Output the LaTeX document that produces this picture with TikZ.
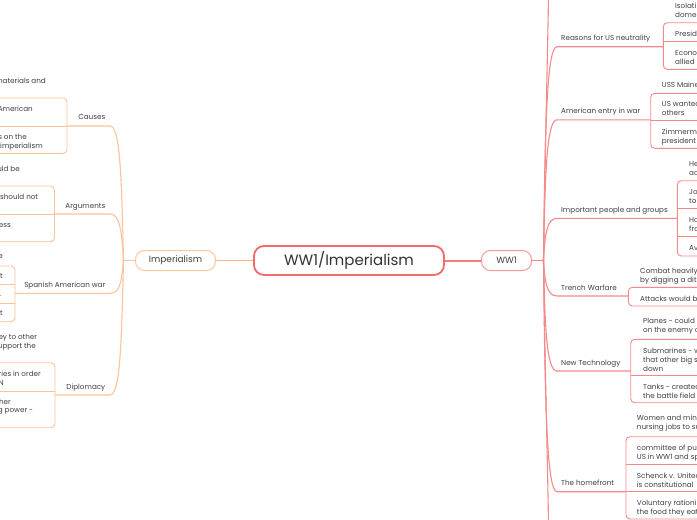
\documentclass[tikz,border=0pt]{standalone}
\usepackage{fontspec}
\setmainfont{Poppins}
\definecolor{txt}{HTML}{404040}
\definecolor{txtd}{HTML}{333333}
\definecolor{redmain}{HTML}{F26B6B}
\definecolor{rmain}{HTML}{F47C7C}
\definecolor{rww}{HTML}{F79A9A}
\definecolor{rbr}{HTML}{F58A8A}
\definecolor{omain}{HTML}{FFB583}
\definecolor{oimp}{HTML}{FFC6A0}
\definecolor{obr}{HTML}{FFC29B}
\begin{document}
\begin{tikzpicture}[x=1pt,y=-1pt,
  txtsty/.style={text=txt, inner sep=0pt, font=\fontsize{7.2}{9}\selectfont},
  lbl/.style={txtsty, text height=5.3pt, text depth=1.6pt},
  kid/.style={txtsty, align=left, anchor=west},
  frag/.style={lbl, anchor=east},
  rline/.style={draw=rbr, line width=1.1pt},
  rbox/.style={draw=rbr, line width=0.9pt, rounded corners=4pt},
  lline/.style={draw=obr, line width=1.1pt},
  lbox/.style={draw=obr, line width=0.9pt, rounded corners=4pt}]
\useasboundingbox (0,0) rectangle (697,520);
\clip (0,0) rectangle (697,520);
\fill[white] (0,0) rectangle (697,520);

% ---------- main nodes
\node[draw=redmain, fill=white, line width=1.8pt, rounded corners=10pt, minimum width=190pt, minimum height=29pt, inner sep=0pt, font=\fontsize{15}{18}\selectfont, text=txtd] (root) at (349,260.5) {WW1/Imperialism};
\node[draw=oimp, fill=white, line width=1pt, rounded corners=9pt, minimum width=80pt, minimum height=20pt, inner sep=0pt, font=\fontsize{9}{11}\selectfont, text=txt] (imp) at (175.5,260.5) {Imperialism};
\node[draw=rww, fill=white, line width=1pt, rounded corners=9pt, minimum width=50pt, minimum height=20pt, inner sep=0pt, font=\fontsize{9}{11}\selectfont, text=txt] (ww1) at (506.5,260.5) {WW1};

\draw[omain, line width=1.5pt] (root.west) -- (imp.east);
\draw[rmain, line width=2pt] (root.east) -- (ww1.west);
\coordinate (jl) at (123.5,260.5);
\coordinate (jr) at (543.5,260.5);
\draw[lline] (imp.west) -- (jl);
\draw[rline, line width=1.5pt] (ww1.east) -- (jr);

% ---------- left: Imperialism branches
% Causes
\node[lbl, anchor=east] (causes) at (105.5,118) {Causes};
\coordinate (causesE) at (67,126);
\draw[lline] (jl) .. controls (121.5,179.8) and (120.5,126) .. (110,126) -- (causesE);
\draw[lbox] (-8,98) -- (67,98) -- (67,153.3) -- (-8,153.3);
\draw[lbox] (-8,126) -- (causesE);
\node[frag] (c1) at (46,81.7) {materials and};
\node[frag] (c2) at (33,110) {American};
\node[frag] (c3) at (27,137.3) {s on the};
\node[frag] (c4) at (43,146.7) {g imperialism};

% Arguments
\node[lbl, anchor=east] (args) at (105.5,206.5) {Arguments};
\coordinate (argsE) at (54.5,214);
\draw[lline] (jl) .. controls (121.5,232.6) and (120.5,214) .. (110,214) -- (argsE);
\draw[lbox] (-8,186) -- (54.5,186) -- (54.5,241.7) -- (-8,241.7);
\draw[lbox] (-8,214) -- (argsE);
\node[frag] (a1) at (20,169.3) {uld be};
\node[frag] (a2) at (38.3,197.3) {should not};
\node[frag] (a3) at (11,225.3) {less};

% Spanish American war
\node[lbl, anchor=east] (span) at (105.5,285.5) {Spanish American war};
\coordinate (spanE) at (15,293.3);
\draw[lline] (jl) .. controls (121.5,280.2) and (120.5,293.3) .. (110,293.3) -- (spanE);
\draw[lbox] (-8,266) -- (15,266) -- (15,321.7) -- (-8,321.7);
\draw[lbox] (-8,284.3) -- (15,284.3);
\draw[lbox] (-8,303.3) -- (15,303.3);
\node[frag] (s1) at (3,257) {e};
\node[frag] (s2) at (3,276.7) {t};
\node[frag] (s3) at (1.3,294.5) {.};
\node[frag] (s4) at (3,314) {t};

% Diplomacy
\node[lbl, anchor=east] (dipl) at (105.5,387.5) {Diplomacy};
\coordinate (diplE) at (55,395);
\draw[lline] (jl) .. controls (121.5,341.2) and (120.5,395) .. (110,395) -- (diplE);
\draw[lbox] (-8,362.7) -- (55,362.7) -- (55,427.7) -- (-8,427.7);
\draw[lbox] (-8,391) -- (55,391);
\node[frag] (d1) at (37.3,337.3) {ey to other};
\node[frag] (d2) at (36,346.7) {upport the};
\node[frag] (d3) at (41,374.3) {ries in order};
\node[frag] (d4) at (4,383.3) {N};
\node[frag] (d5) at (11,402.3) {her};
\node[frag] (d6) at (33.3,411) {g power -};

% ---------- right: WW1 branches
\coordinate (topout) at (548.5,-6);
\coordinate (botout) at (548.5,526);
\draw[rline] (jr) .. controls (545,150) and (548,40) .. (topout);
\draw[rline] (jr) .. controls (545,370) and (548,480) .. (botout);

% Reasons for US neutrality
\node[lbl, anchor=west] (reas) at (561,38.5) {Reasons for US neutrality};
\coordinate (reasE) at (663.3,46.7);
\draw[rline] (jr) .. controls (545,132.2) and (546.5,46.7) .. (557,46.7) -- (reasE);
\draw[rbox] (705,22.7) -- (663.3,22.7) -- (663.3,69.3) -- (705,69.3);
\draw[rbox] (663.3,41.7) -- (705,41.7);
\node[kid] (r1) at (675,10.5) {Isolati\\domes};
\node[kid] (r2) at (675,34) {Presid};
\node[kid] (r3) at (675,57.8) {Econor\\allied};

% American entry in war
\node[lbl, anchor=west] (amer) at (561,111.5) {American entry in war};
\coordinate (amerE) at (650.7,119.8);
\draw[rline] (jr) .. controls (545,175.9) and (546.5,119.8) .. (557,119.8) -- (amerE);
\draw[rbox] (705,93.3) -- (650.7,93.3) -- (650.7,148.3) -- (705,148.3);
\draw[rbox] (650.7,120.5) -- (705,120.5);
\node[kid] (m1) at (661.7,85) {USS Maine};
\node[kid] (m2) at (661.7,108) {US wanted\\others};
\node[kid] (m3) at (661.7,137) {Zimmerman\\president};

% Important people and groups
\node[lbl, anchor=west] (imppl) at (561,210.5) {Important people and groups};
\coordinate (impplE) at (677.3,218.3);
\draw[rline] (jr) .. controls (545,235.2) and (546.5,218.3) .. (557,218.3) -- (impplE);
\draw[rbox] (705,180.7) -- (677.3,180.7) -- (677.3,256) -- (705,256);
\draw[rbox] (677.3,208.7) -- (705,208.7);
\draw[rbox] (677.3,236.5) -- (705,236.5);
\node[kid] (p1) at (689,168.8) {He\\ac};
\node[kid] (p2) at (689,196.8) {Jo\\to};
\node[kid] (p3) at (689,224.5) {Ho\\fro};
\node[kid] (p4) at (689,248.3) {Av};

% Trench Warfare
\node[lbl, anchor=west] (trench) at (561,288.5) {Trench Warfare};
\coordinate (trenchE) at (628.3,296);
\draw[rline] (jr) .. controls (545,281.8) and (546.5,296) .. (557,296) -- (trenchE);
\draw[rbox] (705,287.3) -- (628.3,287.3) -- (628.3,306) -- (705,306);
\node[kid] (t1) at (640,275.8) {Combat heavily\\by digging a dit};
\node[kid] (t2) at (640,299.3) {Attacks would be};

% New Technology
\node[lbl, anchor=west] (tech) at (561,363.3) {New Technology};
\coordinate (techE) at (630.7,371);
\draw[rline] (jr) .. controls (545,326.8) and (546.5,371) .. (557,371) -- (techE);
\draw[rbox] (705,339.3) -- (630.7,339.3) -- (630.7,402.7) -- (705,402.7);
\draw[rbox] (630.7,375) -- (705,375);
\node[kid] (n1) at (643,326.3) {Planes - could o\\on the enemy or};
\node[kid] (n2) at (643,359.4) {Submarines - we\\that other big sh\\down};
\node[kid] (n3) at (643,391.2) {Tanks - created\\the battle field c};

% The homefront
\node[lbl, anchor=west] (home) at (561,484) {The homefront};
\coordinate (homeE) at (626,491.7);
\draw[rline] (jr) .. controls (545,399.2) and (546.5,491.7) .. (557,491.7) -- (homeE);
\draw[rbox] (705,436.7) -- (626,436.7) -- (626,519) -- (705,519);
\draw[rbox] (626,464.2) -- (705,464.2);
\draw[rbox] (626,491.7) -- (705,491.7);
\node[kid] (h1) at (636.7,423.7) {Women and mino\\nursing jobs to su};
\node[kid] (h2) at (636.7,452.7) {committee of pub\\US in WW1 and sp};
\node[kid] (h3) at (636.7,480.3) {Schenck v. United\\is constitutional};
\node[kid] (h4) at (636.7,507.8) {Voluntary rationi\\the food they eat};
\end{tikzpicture}
\end{document}
